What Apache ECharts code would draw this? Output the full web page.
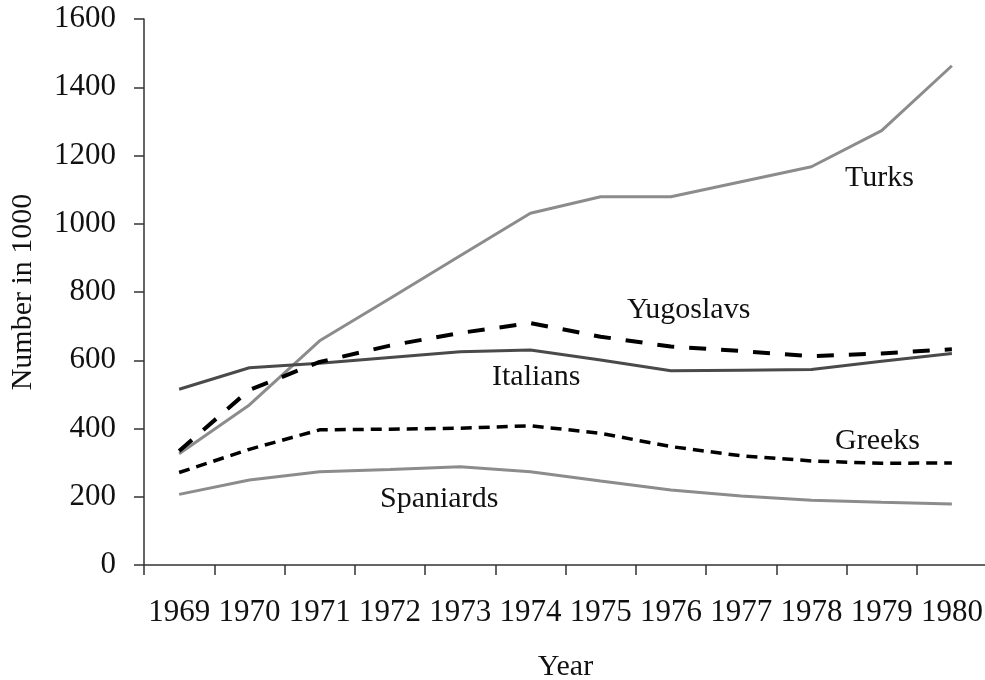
<!DOCTYPE html>
<html>
<head>
<meta charset="utf-8">
<script src="https://cdn.jsdelivr.net/npm/echarts@6/dist/echarts.min.js"></script>
<style>
  html, body { margin: 0; padding: 0; background: #fff; }
  #chart { width: 985px; height: 680px; }
</style>
</head>
<body>
<div id="chart"></div>
<script>
var years = ['1969','1970','1971','1972','1973','1974','1975','1976','1977','1978','1979','1980'];
var turks     = [326, 469, 657, 781, 906, 1031, 1079, 1079, 1123, 1167, 1273, 1463];
var yugoslavs = [334, 513, 595, 643, 680, 709, 669, 640, 627, 612, 620, 632];
var italians  = [515, 578, 591, 608, 625, 630, 601, 569, 571, 573, 597, 620];
var greeks    = [271, 339, 396, 398, 401, 408, 386, 347, 320, 305, 298, 299];
var spaniards = [207, 249, 273, 280, 288, 273, 246, 220, 202, 190, 184, 179];
var yTicks = { min: 0, max: 1600, step: 200 };

var serif = '"Liberation Serif", "DejaVu Serif", serif';

var myChart = echarts.init(document.getElementById('chart'));

function lineSeries(name, data, color, width, dash) {
    return {
        name: name,
        type: 'line',
        data: data,
        symbol: 'none',
        smooth: false,
        lineStyle: { color: color, width: width, type: dash || 'solid', cap: 'butt' },
        z: 3
    };
}

function label(text, x, y) {
    return {
        type: 'text',
        left: x,
        top: y,
        style: { text: text, font: '30px ' + serif, fill: '#111' }
    };
}

var option = {
    animation: false,
    backgroundColor: '#fff',
    grid: { left: 144, top: 19, bottom: 115, width: 843, outerBoundsMode: 'none', containLabel: false },
    xAxis: {
        type: 'category',
        data: years,
        boundaryGap: true,
        name: 'Year',
        nameLocation: 'middle',
        nameGap: 87,
        nameTextStyle: { fontFamily: serif, fontSize: 30, color: '#111' },
        axisLine: { lineStyle: { color: '#333', width: 1.5 } },
        axisTick: { show: true, inside: false, length: 10, lineStyle: { color: '#333', width: 1.5 } },
        axisLabel: { margin: 32, fontFamily: serif, fontSize: 31, color: '#111', interval: 0 }
    },
    yAxis: {
        type: 'value',
        min: yTicks.min,
        max: yTicks.max,
        interval: yTicks.step,
        name: 'Number in 1000',
        nameLocation: 'middle',
        nameGap: 106,
        nameRotate: 90,
        nameTextStyle: { fontFamily: serif, fontSize: 30, color: '#111' },
        splitLine: { show: false },
        axisLine: { show: true, lineStyle: { color: '#333', width: 1.5 } },
        axisTick: { show: true, inside: false, length: 10, lineStyle: { color: '#333', width: 1.5 } },
        axisLabel: {
            margin: 28, fontFamily: serif, fontSize: 31, color: '#111',
            formatter: function (v) { return String(v); }
        }
    },
    series: [
        lineSeries('Turks', turks, '#8c8c8c', 3),
        lineSeries('Spaniards', spaniards, '#8c8c8c', 3),
        lineSeries('Italians', italians, '#4a4a4a', 3),
        lineSeries('Yugoslavs', yugoslavs, '#000', 4, [17, 15]),
        lineSeries('Greeks', greeks, '#000', 3.5, [11, 7])
    ],
    graphic: [
        label('Turks', 845, 163),
        label('Yugoslavs', 627, 295),
        label('Italians', 492, 362),
        label('Greeks', 835, 426),
        label('Spaniards', 380, 484)
    ]
};

myChart.setOption(option);
</script>
</body>
</html>
